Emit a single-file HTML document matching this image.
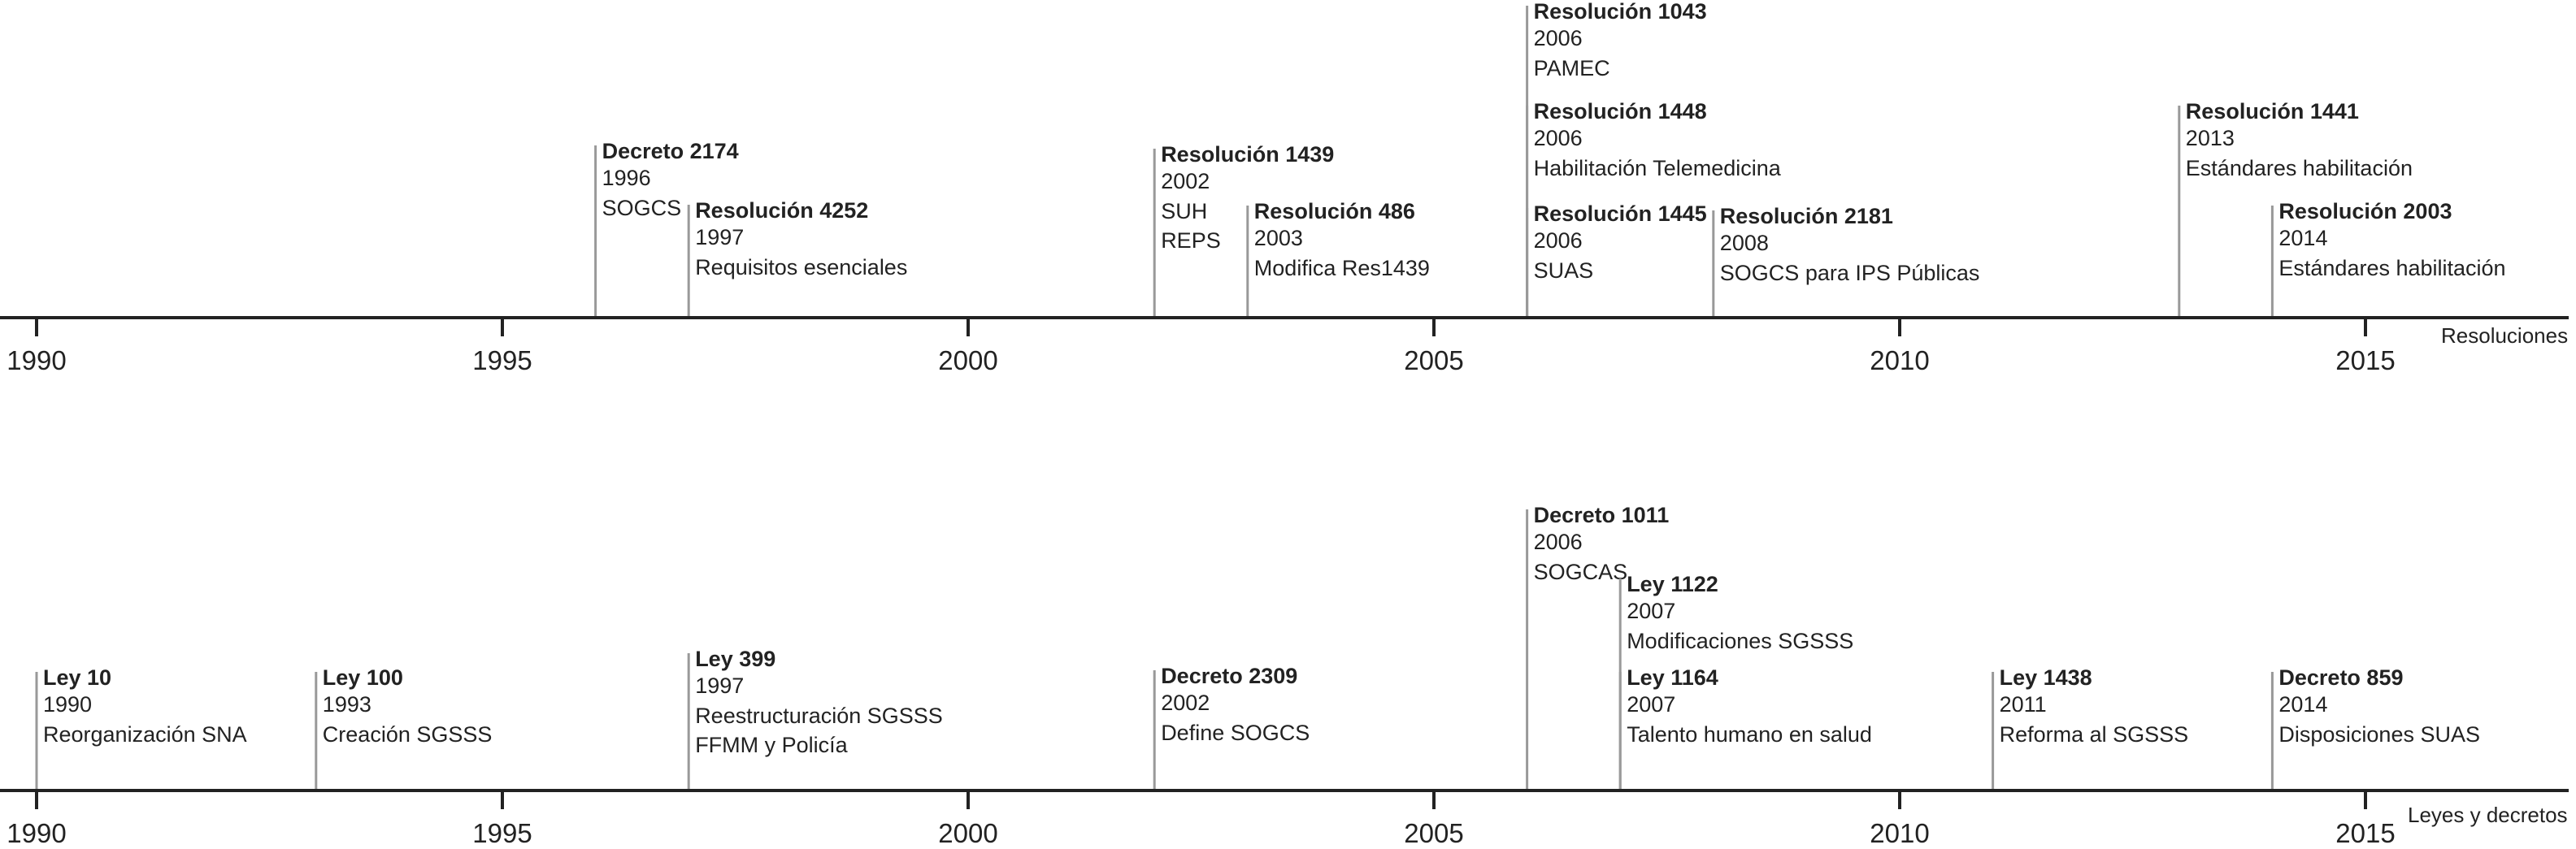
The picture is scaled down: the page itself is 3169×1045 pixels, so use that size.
<!DOCTYPE html>
<html><head><meta charset="utf-8"><style>
html,body{margin:0;padding:0;background:#fff;}
svg{display:block;font-family:"Liberation Sans",Arial,sans-serif;}
</style></head><body>
<svg id="chart" width="3169" height="1045" viewBox="0 0 3169 1045"></svg>
<script>
const tickYears=[1990,1995,2000,2005,2010,2015];
const topYears=[1996,1997,2002,2003,2006,2006,2006,2008,2013,2014];
const topTitles=["Decreto 2174","Resolución 4252","Resolución 1439","Resolución 486","Resolución 1043","Resolución 1448","Resolución 1445","Resolución 2181","Resolución 1441","Resolución 2003"];
const topDescs=[["SOGCS"],["Requisitos esenciales"],["SUH","REPS"],["Modifica Res1439"],["PAMEC"],["Habilitación Telemedicina"],["SUAS"],["SOGCS para IPS Públicas"],["Estándares habilitación"],["Estándares habilitación"]];
const topLevels=[195,268,199,269,23,146,272,275,146,269];
const botYears=[1990,1993,1997,2002,2006,2007,2007,2011,2014];
const botTitles=["Ley 10","Ley 100","Ley 399","Decreto 2309","Decreto 1011","Ley 1122","Ley 1164","Ley 1438","Decreto 859"];
const botDescs=[["Reorganización SNA"],["Creación SGSSS"],["Reestructuración SGSSS","FFMM y Policía"],["Define SOGCS"],["SOGCAS"],["Modificaciones SGSSS"],["Talento humano en salud"],["Reforma al SGSSS"],["Disposiciones SUAS"]];
const botLevels=[843,843,820,841,643,728,843,843,843];

const svg=document.getElementById('chart');
const NS='http://www.w3.org/2000/svg';
const x=y=>45+(y-1990)*114.6;
const FS=27;
function mk(tag,attrs,parent){const e=document.createElementNS(NS,tag);for(const k in attrs)e.setAttribute(k,attrs[k]);(parent||svg).appendChild(e);return e;}

function drawAxis(axisY,label,labelX,labelY,name){
  const g=mk('g',{});
  
  
  const ln=mk('line',{x1:0,x2:3160,y1:axisY,y2:axisY,stroke:'#222','stroke-width':4},g);
  
  
  tickYears.forEach(t=>{
    const tk=mk('line',{x1:x(t),x2:x(t),y1:axisY,y2:axisY+23,stroke:'#222','stroke-width':4},g);
    
    
    const tl=mk('text',{x:x(t),y:axisY+64,'font-size':33,'text-anchor':'middle',fill:'#222'},g);
    tl.textContent=t;
    
    
  });
  const al=mk('text',{x:labelX,y:labelY,'font-size':26,fill:'#222'},g);
  al.textContent=label;
  
  
}

function drawEvents(years,titles,descs,levels,axisY,name){
  years.forEach((yr,i)=>{
    const g=mk('g',{});
    
    
    const b=levels[i];
    const xx=x(yr);
    const ln=mk('line',{x1:xx,x2:xx,y1:Math.max(2,b-16),y2:axisY,stroke:'#999','stroke-width':3},g);
    
    
    const t=mk('text',{x:xx+8,y:b,'font-size':FS,'font-weight':'bold',fill:'#222'},g);
    t.textContent=titles[i];
    
    
    const yt=mk('text',{x:xx+8,y:b+33,'font-size':FS,fill:'#222'},g);
    yt.textContent=yr;
    
    
    descs[i].forEach((d,j)=>{
      const dt=mk('text',{x:xx+8,y:b+70+j*36,'font-size':FS,fill:'#222'},g);
      dt.textContent=d;
      
      
    });
  });
}

drawEvents(topYears,topTitles,topDescs,topLevels,391,'resolution');
drawEvents(botYears,botTitles,botDescs,botLevels,973,'law');
drawAxis(391,'Resoluciones',3003,422,'resoluciones');
drawAxis(973,'Leyes y decretos',2962,1012,'leyes');
</script>
</body></html>
